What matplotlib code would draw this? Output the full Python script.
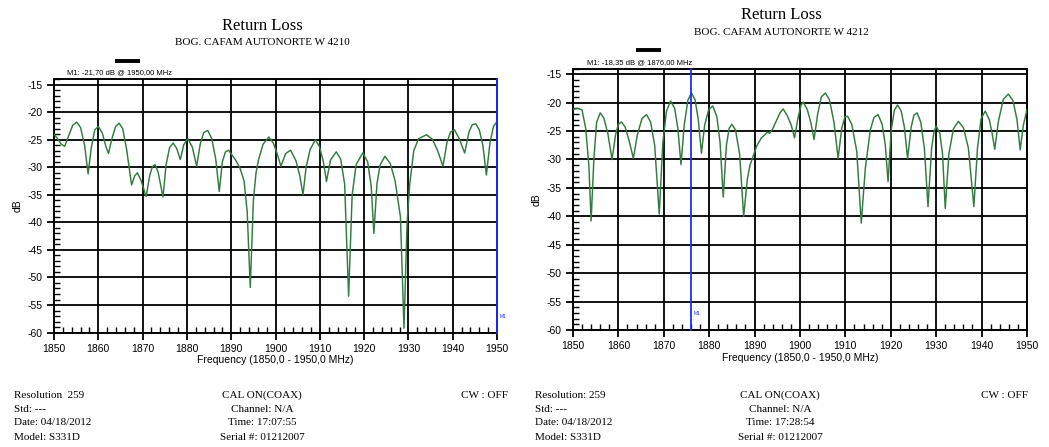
import matplotlib
matplotlib.use("Agg")
from matplotlib import pyplot as plt
from matplotlib.ticker import MultipleLocator

plt.rcParams['axes.unicode_minus'] = False

freq_a = [1850.0, 1850.8, 1851.6, 1852.4, 1853.2, 1854.2, 1855.1, 1856.0, 1856.9, 1857.7,
          1858.4, 1859.2, 1860.0, 1860.9, 1861.7, 1862.3, 1863.0, 1863.9, 1864.7, 1865.5,
          1866.4, 1867.5, 1868.2, 1868.8, 1869.6, 1870.8, 1871.6, 1872.2, 1872.8, 1873.5,
          1874.6, 1875.3, 1876.1, 1876.9, 1877.7, 1878.5, 1879.3, 1880.2, 1881.2, 1882.2,
          1883.0, 1883.8, 1884.7, 1885.6, 1886.5, 1887.3, 1888.0, 1888.7, 1889.4, 1890.2,
          1891.0, 1892.0, 1892.9, 1893.6, 1894.3, 1895.0, 1895.6, 1896.2, 1897.2, 1898.5,
          1899.5, 1900.4, 1901.2, 1902.3, 1903.4, 1904.6, 1905.5, 1906.2, 1906.9, 1907.8,
          1909.0, 1909.9, 1910.8, 1911.5, 1912.4, 1913.7, 1914.7, 1915.6, 1916.5, 1917.3,
          1918.2, 1919.7, 1920.8, 1921.6, 1922.2, 1922.9, 1923.6, 1924.7, 1925.9, 1927.0,
          1928.2, 1929.0, 1929.7, 1930.3, 1931.2, 1932.3, 1934.1, 1935.4, 1936.6, 1937.8,
          1938.7, 1939.5, 1940.4, 1941.4, 1942.7, 1943.7, 1944.4, 1945.2, 1946.0, 1946.8,
          1947.6, 1948.4, 1949.2, 1950.0]
rl_a = [-24.0, -24.8, -25.8, -26.2, -24.5, -22.4, -21.8, -22.8, -26.0, -31.2,
        -26.5, -23.2, -22.6, -23.8, -26.2, -27.5, -25.0, -22.6, -22.0, -23.0,
        -26.8, -33.2, -31.6, -31.0, -32.3, -35.3, -31.5, -29.9, -29.5, -30.9,
        -35.4, -29.5, -26.4, -25.6, -26.6, -28.6, -25.9, -24.8, -26.3, -29.8,
        -25.8, -23.7, -23.3, -24.8, -28.5, -34.4, -29.0, -27.2, -26.9, -27.8,
        -28.7, -30.2, -32.5, -38.0, -51.8, -36.0, -31.0, -28.5, -25.8, -24.5,
        -25.6, -27.6, -29.8, -27.5, -26.9, -28.8, -31.6, -35.0, -30.0, -26.8,
        -25.0, -26.2, -29.0, -32.6, -28.7, -27.2, -28.5, -33.0, -53.4, -35.0,
        -29.5, -27.4, -29.0, -33.5, -42.0, -33.0, -29.6, -28.0, -29.3, -32.5,
        -39.0, -59.2, -40.0, -33.0, -27.0, -24.8, -24.1, -24.9, -27.0, -29.8,
        -25.5, -23.6, -23.2, -24.7, -27.4, -23.5, -22.3, -22.1, -23.2, -26.0,
        -31.4, -25.6, -22.6, -21.7]

freq_b = [1850.0, 1851.0, 1852.0, 1852.8, 1853.5, 1854.0, 1854.6, 1855.2, 1856.0, 1856.8,
          1857.7, 1858.6, 1859.4, 1860.0, 1860.7, 1861.5, 1862.4, 1863.3, 1864.2, 1865.2,
          1866.2, 1867.1, 1868.0, 1869.0, 1869.8, 1870.6, 1871.5, 1872.4, 1873.1, 1873.8,
          1874.5, 1875.3, 1876.1, 1876.9, 1877.6, 1878.3, 1879.0, 1879.9, 1880.8, 1881.7,
          1882.4, 1883.1, 1883.8, 1884.4, 1885.0, 1885.8, 1886.7, 1887.6, 1888.4, 1889.0,
          1889.6, 1890.5, 1891.5, 1892.2, 1892.8, 1893.3, 1894.0, 1894.8, 1895.6, 1896.3,
          1897.2, 1898.1, 1898.8, 1899.5, 1900.2, 1900.7, 1901.6, 1902.4, 1903.1, 1903.9,
          1904.7, 1905.6, 1906.5, 1907.5, 1908.4, 1909.2, 1909.9, 1910.5, 1911.4, 1912.5,
          1913.5, 1914.4, 1915.5, 1916.3, 1917.2, 1918.1, 1918.8, 1919.4, 1920.1, 1920.8,
          1921.5, 1922.3, 1923.0, 1923.7, 1924.5, 1925.1, 1925.8, 1926.6, 1927.4, 1928.2,
          1929.0, 1929.5, 1930.0, 1930.8, 1931.4, 1932.0, 1932.8, 1933.8, 1934.9, 1936.0,
          1937.1, 1938.3, 1939.1, 1939.9, 1940.8, 1941.7, 1942.3, 1942.9, 1943.7, 1944.8,
          1945.9, 1946.9, 1947.8, 1948.5, 1949.2, 1950.0]
rl_b = [-21.2, -21.0, -21.3, -24.5, -31.0, -40.8, -30.0, -23.5, -21.8, -22.7,
        -25.5, -30.0, -25.6, -23.8, -23.4, -24.3, -26.8, -29.8, -25.6, -22.8,
        -22.1, -23.4, -27.5, -39.6, -27.0, -21.5, -19.7, -21.0, -24.5, -30.9,
        -24.0, -19.6, -18.3, -19.5, -23.0, -28.9, -24.0, -21.2, -20.6, -22.5,
        -27.0, -36.6, -27.5, -24.5, -23.8, -24.8, -29.0, -40.0, -33.5, -31.0,
        -29.6, -27.6, -26.2, -25.7, -25.2, -25.4, -24.6, -23.2, -21.8, -21.1,
        -22.3, -24.0, -26.2, -23.0, -20.5, -19.9, -21.2, -23.5, -26.5, -22.0,
        -19.0, -18.3, -19.5, -23.5, -29.8, -24.5, -22.5, -22.4, -23.8, -28.5,
        -41.2, -31.5, -24.8, -22.6, -22.1, -23.8, -27.5, -33.9, -24.8, -21.3,
        -20.4, -21.5, -24.3, -29.8, -24.3, -22.2, -21.8, -23.4, -28.0, -38.3,
        -28.0, -25.2, -24.1, -25.4, -29.0, -38.6, -29.0, -24.6, -23.3, -24.4,
        -28.0, -38.3, -28.0, -22.8, -21.5, -23.0, -25.3, -28.2, -23.3, -19.4,
        -18.5, -19.6, -23.0, -28.3, -24.0, -21.2]

marker_a = 1950.0
marker_b = 1876.0
sites = ["BOG. CAFAM AUTONORTE W 4210", "BOG. CAFAM AUTONORTE W 4212"]
marker_txt = ["M1: -21,70 dB @ 1950,00 MHz", "M1: -18,35 dB @ 1876,00 MHz"]
times = ["17:07:55", "17:28:54"]
res_lbl = ["Resolution  259", "Resolution: 259"]

serif = "Liberation Serif"
narrow = ["Liberation Sans Narrow", "Liberation Sans", "DejaVu Sans"]
trace_col = "#337a40"

fig = plt.figure(figsize=(10.49, 4.47), dpi=100)
ax1 = fig.add_axes([0.0515, 0.256, 0.4223, 0.567])
ax2 = fig.add_axes([0.5462, 0.2617, 0.4328, 0.585])


def style_axis(ax):
    ax.set_xlim(1850, 1950)
    ax.set_ylim(-60, -14)
    ax.set_xticks(range(1850, 1951, 10))
    ax.set_yticks(range(-60, -14, 5))
    ax.xaxis.set_minor_locator(MultipleLocator(2))
    ax.yaxis.set_minor_locator(MultipleLocator(1))
    ax.grid(True, which="major", color="black", lw=1.3)
    ax.tick_params(which="major", direction="out", length=5, width=1.3,
                   labelsize=7.5, pad=3)
    ax.tick_params(which="minor", direction="in", length=4, width=1.0)
    for lab in ax.get_xticklabels() + ax.get_yticklabels():
        lab.set_family(narrow)
    for s in ax.spines.values():
        s.set_linewidth(1.4)
    ax.set_xlabel("Frequency (1850,0 - 1950,0 MHz)", family=narrow, fontsize=7.5,
                  labelpad=1)
    ax.set_ylabel("dB", family=narrow, fontsize=7.5, labelpad=4)


for ax, f, v, mk, mt in [(ax1, freq_a, rl_a, marker_a, marker_txt[0]),
                         (ax2, freq_b, rl_b, marker_b, marker_txt[1])]:
    style_axis(ax)
    ax.plot(f, v, color=trace_col, lw=1.05, zorder=3)
    ax.axvline(mk, color="#1f2bff", lw=1.3, zorder=4, clip_on=False)
    ax.text(mk + 0.6, -57.3, "M1", color="#1f2bff", fontsize=3.5, family=narrow, zorder=5)
    ax.text(0.03, 1.024, mt, transform=ax.transAxes, fontsize=5.5, family=narrow,
            va="center", ha="left")
    ax.plot([0.138, 0.194], [1.071, 1.071], transform=ax.transAxes, color="black",
            lw=2.8, clip_on=False, solid_capstyle="butt")

# titles
fig.text(0.25, 0.942, "Return Loss", family=serif, fontsize=12, ha="center", va="center")
fig.text(0.25, 0.905, sites[0], family=serif, fontsize=8, ha="center", va="center")
fig.text(0.7445, 0.966, "Return Loss", family=serif, fontsize=12, ha="center", va="center")
fig.text(0.7445, 0.928, sites[1], family=serif, fontsize=8, ha="center", va="center")

# footer blocks
rows = [0.116, 0.085, 0.054, 0.022]
for x0, xc, xr, t, rl in [(0.0133, 0.25, 0.484, times[0], res_lbl[0]),
                          (0.51, 0.7436, 0.98, times[1], res_lbl[1])]:
    left = [rl, "Std: ---", "Date: 04/18/2012", "Model: S331D"]
    mid = ["CAL ON(COAX)", "Channel: N/A", "Time: " + t, "Serial #: 01212007"]
    for y, a, b in zip(rows, left, mid):
        fig.text(x0, y, a, family=serif, fontsize=8, ha="left", va="center")
        fig.text(xc, y, b, family=serif, fontsize=8, ha="center", va="center")
    fig.text(xr, rows[0], "CW : OFF", family=serif, fontsize=8, ha="right", va="center")

fig.savefig("out.png", dpi=100)
